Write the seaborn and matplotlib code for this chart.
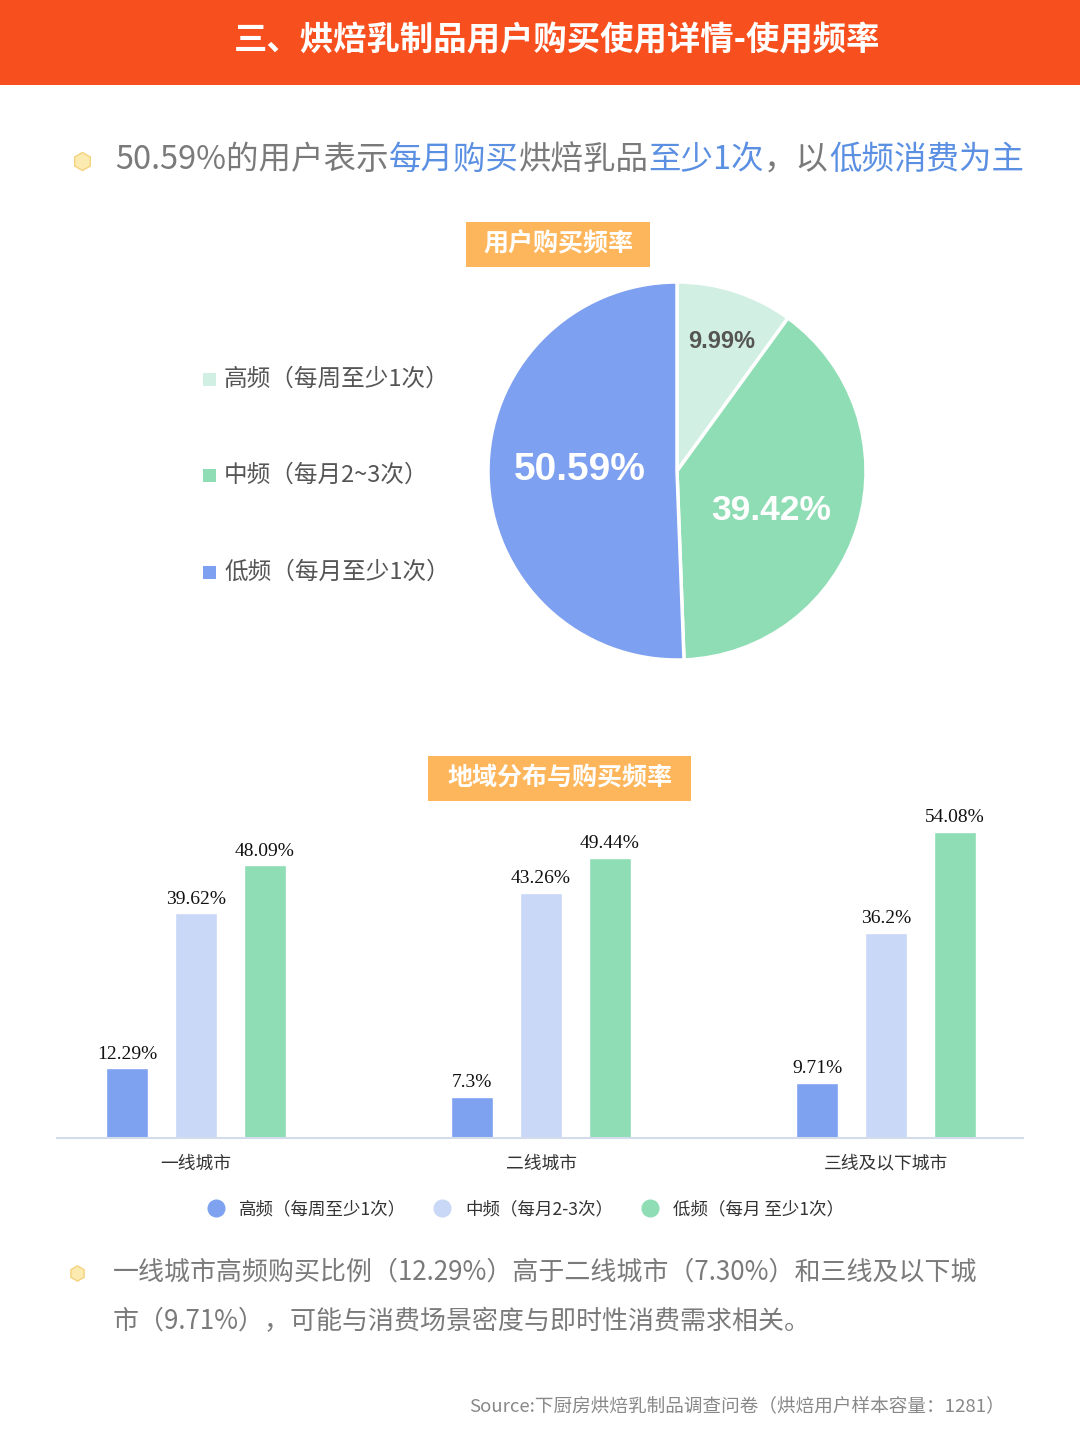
import matplotlib
matplotlib.use("Agg")
import matplotlib.pyplot as plt
from matplotlib.patches import Rectangle
from matplotlib.lines import Line2D
import seaborn as sns
import pandas as pd

# ---------------- data ----------------
pie_labels = ["高频（每周至少1次）", "中频（每月2~3次）", "低频（每月至少1次）"]
pie_values = [9.99, 39.42, 50.59]
pie_texts = ["9.99%", "39.42%", "50.59%"]

cities = ["一线城市", "二线城市", "三线及以下城市"]
freq_levels = ["高频（每周至少1次）", "中频（每月2-3次）", "低频（每月 至少1次）"]
high_vals = [12.29, 7.3, 9.71]
mid_vals = [39.62, 43.26, 36.2]
low_vals = [48.09, 49.44, 54.08]
high_text = ["12.29%", "7.3%", "9.71%"]
mid_text = ["39.62%", "43.26%", "36.2%"]
low_text = ["48.09%", "49.44%", "54.08%"]

title = "三、烘焙乳制品用户购买使用详情-使用频率"
pie_title = "用户购买频率"
bar_title = "地域分布与购买频率"
sub_segments = [("50.59%的用户表示", "gray"), ("每月购买", "blue"), ("烘焙乳品", "gray"),
                ("至少1次", "blue"), ("，以", "gray"), ("低频消费为主", "blue")]
note_lines = ["一线城市高频购买比例（12.29%）高于二线城市（7.30%）和三线及以下城",
              "市（9.71%），可能与消费场景密度与即时性消费需求相关。"]
source = "Source:下厨房烘焙乳制品调查问卷（烘焙用户样本容量：1281）"

# ---------------- style ----------------
sns.set_theme(style="white")
plt.rcParams["font.family"] = ["Noto Sans CJK SC", "DejaVu Sans"]

W, H = 1080, 1440
fig = plt.figure(figsize=(W / 100, H / 100), dpi=100)
fig.patch.set_facecolor("white")

def fx(px):
    return px / W

def fy(py):
    return 1 - py / H

ORANGE = "#F84F1E"
BOX = "#FDB65B"
PIE_COLORS = ["#D2EFE3", "#8EDDB4", "#7EA0F0"]
BAR_COLORS = ["#7EA2F0", "#C9D8F7", "#8EDDB4"]
GRAY = "#7A7A7A"
BLUE = "#5A8FE2"

# header
fig.add_artist(Rectangle((0, fy(85)), 1, 85 / H, transform=fig.transFigure,
                         facecolor=ORANGE, edgecolor="none", zorder=0))
fig.text(fx(557), fy(41), title, ha="center", va="center", color="white",
         fontsize=24, fontweight="bold")

# bullets
def bullet(x, y, size):
    fig.add_artist(Line2D([fx(x)], [fy(y)], marker="h", markersize=size,
                          markerfacecolor="#FCEBB0", markeredgecolor="#F4D27E",
                          markeredgewidth=1, transform=fig.transFigure))

bullet(82, 161, 13)
bullet(77, 1273, 11)

# subtitle, mixed colors
renderer = fig.canvas.get_renderer()
x = fx(115)
for seg, col in sub_segments:
    t = fig.text(x, fy(160), seg, ha="left", va="center", fontsize=23.4,
                 color=GRAY if col == "gray" else BLUE)
    bb = t.get_window_extent(renderer=renderer)
    x += bb.width / W

# title boxes
def box_title(x0, x1, y0, y1, text):
    fig.add_artist(Rectangle((fx(x0), fy(y1)), (x1 - x0) / W, (y1 - y0) / H,
                             transform=fig.transFigure, facecolor=BOX,
                             edgecolor="none"))
    fig.text(fx((x0 + x1) / 2), fy((y0 + y1) / 2), text, ha="center", va="center",
             color="white", fontsize=18, fontweight="bold")

box_title(466, 650, 222, 267, pie_title)
box_title(428, 691, 756, 801, bar_title)

# ---------------- pie ----------------
cx, cy, r = 677, 471, 189
ax_pie = fig.add_axes([fx(cx - r), fy(cy + r), 2 * r / W, 2 * r / H])
wedges, _ = ax_pie.pie(pie_values, colors=PIE_COLORS, startangle=90,
                       counterclock=False,
                       wedgeprops=dict(edgecolor="white", linewidth=2.5))
ax_pie.set_xlim(-1, 1)
ax_pie.set_ylim(-1, 1)
ax_pie.set_aspect("equal")
ax_pie.axis("off")

def pie_text(px, py, text, color, size):
    fig.text(fx(px), fy(py), text, ha="center", va="center", color=color,
             fontsize=size, fontweight="bold", family=["Liberation Sans"])

pie_text(722, 342, pie_texts[0], "#555555", 17)
pie_text(771, 511, pie_texts[1], "white", 25.5)
pie_text(580, 470, pie_texts[2], "white", 28)

# pie legend
for i, (lab, yy) in enumerate(zip(pie_labels, [379, 475, 572])):
    fig.add_artist(Rectangle((fx(203), fy(yy + 6.5)), 13 / W, 13 / H,
                             transform=fig.transFigure, facecolor=PIE_COLORS[i],
                             edgecolor="none"))
    fig.text(fx(224), fy(yy), lab, ha="left", va="center", color="#555555",
             fontsize=17)

# ---------------- bar chart ----------------
df = pd.DataFrame({
    "city": cities * 3,
    "freq": [freq_levels[0]] * 3 + [freq_levels[1]] * 3 + [freq_levels[2]] * 3,
    "value": high_vals + mid_vals + low_vals,
})
ax = fig.add_axes([fx(57), fy(1138), (1023 - 57) / W, (1138 - 798) / H])
sns.barplot(data=df, x="city", y="value", hue="freq", hue_order=freq_levels,
            palette=BAR_COLORS, width=0.6, gap=0.39, saturation=1,
            legend=False, ax=ax)
ax.set_xlim(-0.403, 2.397)
ax.set_ylim(0, 60)
ax.set_xlabel("")
ax.set_ylabel("")
ax.set_yticks([])
for s in ["top", "left", "right"]:
    ax.spines[s].set_visible(False)
ax.spines["bottom"].set_color("#D3DCEB")
ax.spines["bottom"].set_linewidth(1.5)
ax.tick_params(axis="x", length=0, pad=12, labelsize=12.8, labelcolor="#333333")
ax.set_facecolor("white")

for cont, labs in zip(ax.containers, [high_text, mid_text, low_text]):
    ax.bar_label(cont, labels=labs, padding=4, fontsize=14, color="#111111",
                 family=["Liberation Serif"])

handles = [Line2D([], [], marker="o", linestyle="none", markersize=12,
                  markerfacecolor=c, markeredgecolor=c) for c in BAR_COLORS]
fig.legend(handles, freq_levels, loc="center", bbox_to_anchor=(fx(521), fy(1209)),
           ncol=3, frameon=False, fontsize=12.6, handletextpad=0.3,
           columnspacing=1.1, labelcolor="#333333")

# ---------------- notes ----------------
fig.text(fx(113), fy(1272), note_lines[0], ha="left", va="center", color=GRAY,
         fontsize=18.7)
fig.text(fx(113), fy(1322), note_lines[1], ha="left", va="center", color=GRAY,
         fontsize=18.7)
fig.text(fx(1005), fy(1406), source, ha="right", va="center", color="#888888",
         fontsize=13.4)

fig.savefig("out.png", dpi=100, facecolor="white")
